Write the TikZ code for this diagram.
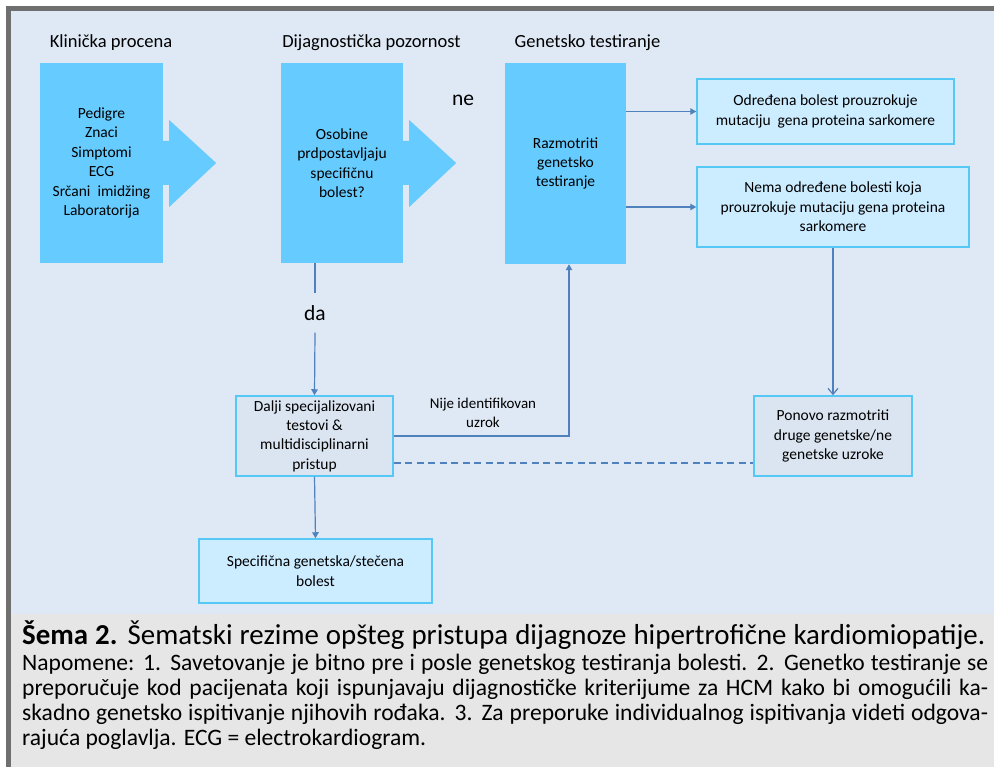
\documentclass[tikz,border=0pt]{standalone}
\usepackage{fontspec}
\setmainfont{Carlito}
\usetikzlibrary{arrows.meta,calc}

\definecolor{pagebg}{HTML}{DFE9F5}
\definecolor{capbg}{HTML}{E6E6E6}
\definecolor{rulegray}{HTML}{6F6F6F}
\definecolor{bigblue}{HTML}{66CCFF}
\definecolor{paleblue}{HTML}{CCECFF}
\definecolor{edgecyan}{HTML}{55C8F5}
\definecolor{linkblue}{HTML}{4F81BD}
\definecolor{plainfill}{HTML}{DBE5F1}

% caption lines
\newcommand\capline{\textbf{Šema 2.} Šematski rezime opšteg pristupa dijagnoze hipertrofične kardiomiopatije.}
\newcommand\noteA{Napomene: 1. Savetovanje je bitno pre i posle genetskog testiranja bolesti. 2. Genetko testiranje se}
\newcommand\noteB{preporučuje kod pacijenata koji ispunjavaju dijagnostičke kriterijume za HCM kako bi omogućili ka-}
\newcommand\noteC{skadno genetsko ispitivanje njihovih rođaka. 3. Za preporuke individualnog ispitivanja videti odgova-}
\newcommand\noteD{rajuća poglavlja. ECG = electrokardiogram.}

% font sizes that make the justified lines fill their measure
\newlength\capw \newlength\nwA \newlength\nwB \newlength\nwC
\settowidth\capw{\fontsize{20}{24}\selectfont\capline}
\settowidth\nwA{\fontsize{20}{24}\selectfont\noteA}
\settowidth\nwB{\fontsize{20}{24}\selectfont\noteB}
\settowidth\nwC{\fontsize{20}{24}\selectfont\noteC}
\edef\capsize{\fpeval{round(0.995*20*963/(\the\capw),2)}}
\edef\notesize{\fpeval{round(0.99*20*966/max(\the\nwA,\the\nwB,\the\nwC),2)}}

\begin{document}
\begin{tikzpicture}[x=1pt,y=-1pt,
  boxtext/.style={font=\fontsize{15.5}{19.4}\selectfont, align=center, inner sep=0pt},
  bigbox/.style={boxtext, fill=bigblue},
  palebox/.style={boxtext, fill=paleblue, draw=edgecyan, line width=1.5pt},
  plainbox/.style={boxtext, fill=plainfill, draw=edgecyan, line width=1.5pt},
  heading/.style={font=\fontsize{18.5}{22}\selectfont, anchor=base, inner sep=0pt},
  answer/.style={font=\fontsize{21.5}{25}\selectfont, inner sep=0pt},
  linkline/.style={draw=linkblue, line width=1.2pt},
  conn/.style={linkline, -{Triangle[length=6pt,width=6.5pt]}},
  openconn/.style={linkline, -{Straight Barb[length=6pt,width=10pt]}},
  captext/.style={anchor=base west, inner sep=0pt},
  notetext/.style={captext, font=\fontsize{\notesize}{25}\selectfont},
]
\useasboundingbox (0,0) rectangle (994,767);

% frame, diagram panel and caption panel
\fill[white] (0,0) rectangle (994,767);
\fill[rulegray] (6,6) rectangle (994,767);
\fill[pagebg] (11,11) rectangle (994,614);
\fill[capbg] (11,614) rectangle (994,767);

% column headings
\node[heading] (h1) at (111,48) {Klinička procena};
\node[heading] (h2) at (371.5,48) {Dijagnostička pozornost};
\node[heading] (h3) at (587.5,48) {Genetsko testiranje};

% main column boxes
\node[bigbox, minimum width=123pt, minimum height=200pt] (b1) at (101.5,163)
  {Pedigre\\Znaci\\Simptomi\\ECG\\Srčani\ \ imidžing\\Laboratorija};
\node[bigbox, minimum width=122pt, minimum height=200pt] (b2) at (342,163)
  {Osobine\\prdpostavljaju\\specifičnu\\bolest?};
\node[bigbox, minimum width=121pt, minimum height=201pt] (b3) at (565.5,163.5)
  {Razmotriti\\genetsko\\testiranje};

% block arrows leaving the first two boxes
\foreach \b in {b1,b2}{
  \fill[bigblue] ($(\b.east)+(-1,-22)$) -- ($(\b.east)+(6,-22)$) -- ($(\b.east)+(6,-43)$)
    -- ($(\b.east)+(53,0)$) -- ($(\b.east)+(6,44)$) -- ($(\b.east)+(6,22)$)
    -- ($(\b.east)+(-1,22)$) -- cycle;
}
\node[answer, anchor=base] (ne) at (463,106) {ne};

% result boxes
\node[palebox, minimum width=257pt, minimum height=65pt] (ba) at (825.5,111.5)
  {Određena bolest prouzrokuje\\mutaciju\ \ gena proteina sarkomere};
\node[palebox, minimum width=272pt, minimum height=80pt] (bb) at (833,207)
  {Nema određene bolesti koja\\prouzrokuje mutaciju gena proteina\\sarkomere};
\node[plainbox, minimum width=157pt, minimum height=80pt] (dalji) at (314.5,436)
  {Dalji specijalizovani\\testovi \&\\multidisciplinarni\\pristup};
\node[plainbox, minimum width=158pt, minimum height=80pt] (ponovo) at (833,436)
  {Ponovo razmotriti\\druge genetske/ne\\genetske uzroke};
\node[palebox, minimum width=233pt, minimum height=64pt] (spec) at (315.5,571)
  {Specifična genetska/stečena\\bolest};

% connectors
\draw[conn] (b3.east |- ba.west) -- (ba.west);
\draw[conn] (b3.east |- bb.west) -- (bb.west);

\node[answer, minimum height=39pt] (da) at (315,313) {da};
\draw[linkline] (da.north |- b2.south) -- (da.north);
\draw[conn] (da.south) -- (dalji.north);
\draw[conn] (dalji.south) -- (spec.north);

\coordinate (bend) at (569,436);
\draw[conn] (dalji.east) -- (bend) -- (bend |- b3.south);
\node[boxtext, font=\fontsize{15}{19}\selectfont] (nije) at (483,413) {Nije identifikovan\\uzrok};

\draw[linkline, dash pattern=on 7pt off 4.5pt] ($(dalji.east)+(0,27)$) -- ($(ponovo.west)+(0,27)$);
\draw[openconn] (bb.south) -- (ponovo.north);

% caption
\node[captext, font=\fontsize{\capsize}{30}\selectfont] (cap) at (22,644)
  {\makebox[963pt][s]{\capline}};
\node[notetext] (n1) at (22,670) {\makebox[966pt][s]{\noteA}};
\node[notetext] (n2) at (22,695) {\makebox[966pt][s]{\noteB}};
\node[notetext] (n3) at (22,720) {\makebox[966pt][s]{\noteC}};
\node[notetext] (n4) at (22,745) {\noteD};
\end{tikzpicture}
\end{document}
